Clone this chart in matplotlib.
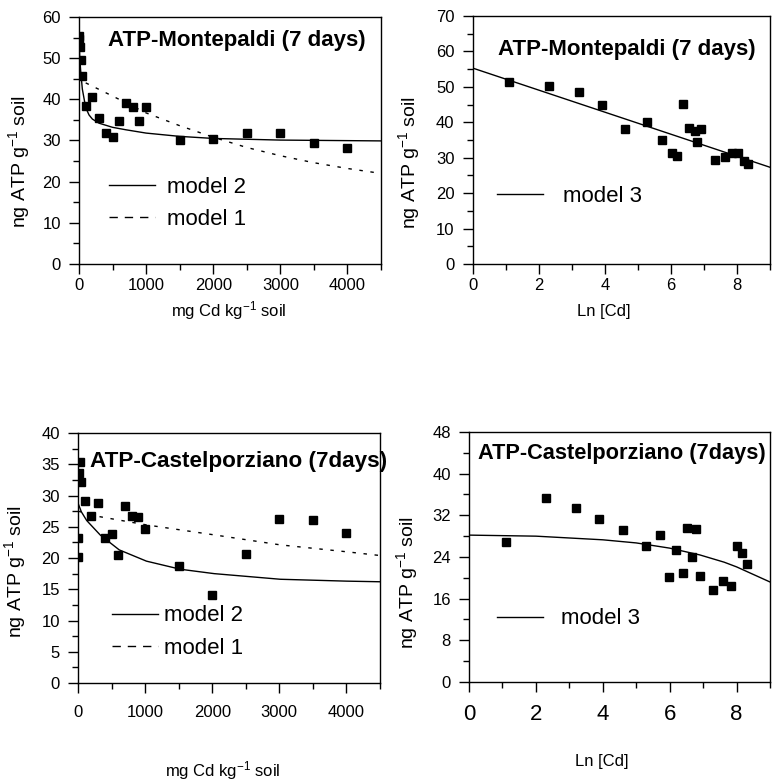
import matplotlib
matplotlib.use("Agg")
import matplotlib.pyplot as plt
from matplotlib.ticker import MultipleLocator
from matplotlib.lines import Line2D

plt.rcParams['font.family'] = ['Liberation Sans', 'DejaVu Sans']
plt.rcParams['mathtext.fontset'] = 'custom'
plt.rcParams['mathtext.rm'] = 'Liberation Sans'
plt.rcParams['mathtext.it'] = 'Liberation Sans'

# ---------------- data ----------------
# Panel A: Montepaldi, ATP vs Cd concentration
mp_cd = [0, 3, 10, 25, 50, 100, 200, 300, 400, 500, 600, 700, 800, 900, 1000,
         1500, 2000, 2500, 3000, 3500, 4000]
mp_atp = [55.5, 54.7, 52.6, 49.6, 45.6, 38.4, 40.5, 35.5, 31.8, 30.8, 34.8, 39.0,
          38.1, 34.8, 38.2, 30.0, 30.4, 31.7, 31.7, 29.4, 28.2]
mp_m2_x = [0, 10, 25, 50, 100, 150, 200, 300, 500, 700, 1000, 1500, 2000, 3000, 4500]
mp_m2_y = [55.5, 50.5, 47.0, 42.5, 38.0, 36.2, 35.2, 34.2, 33.2, 32.6, 31.8, 31.0,
           30.5, 30.1, 29.9]
mp_m1_x = [100, 500, 1000, 1500, 2000, 2500, 3000, 3500, 4000, 4500]
mp_m1_y = [44.0, 40.8, 36.7, 33.6, 30.8, 28.3, 26.3, 24.6, 23.2, 22.0]

# Panel B: Montepaldi, ATP vs Ln[Cd]
mp_ln = [1.09, 2.31, 3.23, 3.92, 4.62, 5.29, 5.72, 6.02, 6.20, 6.38, 6.55, 6.73,
         6.80, 6.92, 7.33, 7.63, 7.85, 8.03, 8.20, 8.33]
mp_ln_atp = [51.5, 50.1, 48.5, 45.0, 38.1, 40.0, 35.1, 31.3, 30.4, 45.1, 38.5, 37.6,
             34.3, 38.0, 29.4, 30.1, 31.4, 31.4, 29.1, 28.2]
mp_m3_x = [0, 9]
mp_m3_y = [55.3, 27.3]

# Panel C: Castelporziano, ATP vs Cd concentration
cp_cd = [0, 3, 10, 25, 50, 100, 200, 300, 400, 500, 600, 700, 800, 900, 1000,
         1500, 2000, 2500, 3000, 3500, 4000]
cp_atp = [20.2, 23.2, 33.6, 35.3, 32.1, 29.2, 26.8, 28.8, 23.2, 23.8, 20.5, 28.3,
          26.7, 26.6, 24.6, 18.8, 14.1, 20.7, 26.2, 26.1, 24.0]
cp_m2_x = [0, 50, 130, 330, 615, 1020, 1527, 2030, 3015, 4000, 4500]
cp_m2_y = [28.8, 27.4, 26.0, 23.7, 21.3, 19.5, 18.2, 17.5, 16.6, 16.3, 16.2]
cp_m1_x = [0, 330, 1020, 2030, 3015, 4000, 4500]
cp_m1_y = [27.5, 26.6, 25.3, 23.7, 22.1, 21.0, 20.4]

# Panel D: Castelporziano, ATP vs Ln[Cd]
cp_ln = [1.10, 2.30, 3.21, 3.90, 4.60, 5.30, 5.70, 5.98, 6.18, 6.39, 6.53, 6.68,
         6.78, 6.90, 7.28, 7.58, 7.83, 8.01, 8.16, 8.30]
cp_ln_atp = [26.9, 35.4, 33.5, 31.2, 29.2, 26.2, 28.3, 20.2, 25.3, 21.0, 29.6, 24.0,
             29.4, 20.3, 17.6, 19.3, 18.4, 26.2, 24.8, 22.7]
cp_m3_x = [0, 2, 4, 5, 6, 6.9, 7.63, 8, 9]
cp_m3_y = [28.2, 28.0, 27.3, 26.7, 25.7, 24.4, 23.0, 22.1, 19.2]

title_mp = "ATP-Montepaldi (7 days)"
title_cp = "ATP-Castelporziano (7days)"
ylab = r"ng ATP g$^{\mathregular{-1}}$ soil"
xlab_cd = r"mg Cd kg$^{\mathregular{-1}}$ soil"
xlab_ln = "Ln [Cd]"

# ---------------- figure ----------------
fig = plt.figure(figsize=(7.75, 7.84), dpi=100)
axA = fig.add_axes([0.1019, 0.6633, 0.3897, 0.3150])
axB = fig.add_axes([0.6099, 0.6633, 0.3836, 0.3163])
axC = fig.add_axes([0.1006, 0.1288, 0.3897, 0.3189])
axD = fig.add_axes([0.6052, 0.1301, 0.3884, 0.3189])

DOT = (0, (2.5, 5.5))
MS = 6


def style(ax, xlim, ylim, xmaj, xmin, ymaj, ymin, xfs=12, yfs=12, xpad=3, ypad=6):
    ax.set_xlim(*xlim)
    ax.set_ylim(*ylim)
    ax.xaxis.set_major_locator(MultipleLocator(xmaj))
    ax.xaxis.set_minor_locator(MultipleLocator(xmin))
    ax.yaxis.set_major_locator(MultipleLocator(ymaj))
    ax.yaxis.set_minor_locator(MultipleLocator(ymin))
    ax.tick_params(which='both', direction='out', top=False, right=False, width=1,
                   colors='black')
    ax.tick_params(which='major', length=7)
    ax.tick_params(which='minor', length=4)
    ax.tick_params(axis='x', labelsize=xfs, pad=xpad)
    ax.tick_params(axis='y', labelsize=yfs, pad=ypad)
    for s in ax.spines.values():
        s.set_linewidth(1.0)


# Panel A
axA.plot(mp_m2_x, mp_m2_y, color='black', lw=1.0)
axA.plot(mp_m1_x, mp_m1_y, color='black', lw=1.0, linestyle=DOT)
axA.plot(mp_cd, mp_atp, linestyle='none', marker='s', ms=MS, color='black')
style(axA, (0, 4500), (0, 60), 1000, 500, 10, 5)
axA.text(0.096, 0.903, title_mp, transform=axA.transAxes, fontsize=16,
         fontweight='bold', va='center', ha='left')
axA.set_ylabel(ylab, fontsize=14)
axA.yaxis.set_label_coords(-0.156, 0.413)
axA.set_xlabel(xlab_cd, fontsize=12)
axA.xaxis.label.set_va('center')
axA.xaxis.set_label_coords(0.497, -0.19)

# Panel B
axB.plot(mp_m3_x, mp_m3_y, color='black', lw=1.0)
axB.plot(mp_ln, mp_ln_atp, linestyle='none', marker='s', ms=MS, color='black')
style(axB, (0, 9), (0, 70), 2, 1, 10, 5)
axB.text(0.085, 0.863, title_mp, transform=axB.transAxes, fontsize=16,
         fontweight='bold', va='center', ha='left')
axB.set_ylabel(ylab, fontsize=14)
axB.yaxis.set_label_coords(-0.172, 0.409)
axB.set_xlabel(xlab_ln, fontsize=12)
axB.xaxis.label.set_va('center')
axB.xaxis.set_label_coords(0.44, -0.19)

# Panel C
axC.plot(cp_m2_x, cp_m2_y, color='black', lw=1.0)
axC.plot(cp_m1_x, cp_m1_y, color='black', lw=1.0, linestyle=DOT)
axC.plot(cp_cd, cp_atp, linestyle='none', marker='s', ms=MS, color='black')
style(axC, (0, 4500), (0, 40), 1000, 500, 5, 2.5, xpad=9)
axC.text(0.04, 0.888, title_cp, transform=axC.transAxes, fontsize=16.2,
         fontweight='bold', va='center', ha='left', clip_on=False)
axC.set_ylabel(ylab, fontsize=14)
axC.yaxis.set_label_coords(-0.165, 0.445)
axC.set_xlabel(xlab_cd, fontsize=12)
axC.xaxis.label.set_va('center')
axC.xaxis.set_label_coords(0.48, -0.352)

# Panel D
axD.plot(cp_m3_x, cp_m3_y, color='black', lw=1.0)
axD.plot(cp_ln, cp_ln_atp, linestyle='none', marker='s', ms=MS, color='black')
style(axD, (0, 9), (0, 48), 2, 1, 8, 4, xfs=16, xpad=9)
axD.text(0.03, 0.912, title_cp, transform=axD.transAxes, fontsize=15.7,
         fontweight='bold', va='center', ha='left', clip_on=False)
axD.set_ylabel(ylab, fontsize=14)
axD.yaxis.set_label_coords(-0.163, 0.396)
axD.set_xlabel(xlab_ln, fontsize=12)
axD.xaxis.label.set_va('center')
axD.xaxis.set_label_coords(0.442, -0.316)

# Legends
solid_h = Line2D([], [], color='black', lw=1.0)
dash_h = Line2D([], [], color='black', lw=1.0, linestyle=(0, (6, 5)))


def add_leg(ax, handles, labels, anchor, tpad):
    ax.legend(handles, labels, loc='center left', bbox_to_anchor=anchor,
              frameon=False, fontsize=16, handlelength=2.07, handletextpad=tpad,
              borderpad=0, borderaxespad=0, labelspacing=0.5)


add_leg(axA, [solid_h, dash_h], ['model 2', 'model 1'], (0.099, 0.245), 0.54)
add_leg(axB, [solid_h], ['model 3'], (0.082, 0.274), 0.9)
add_leg(axC, [solid_h, dash_h], ['model 2', 'model 1'], (0.113, 0.204), 0.27)
add_leg(axD, [solid_h], ['model 3'], (0.093, 0.252), 0.81)

fig.savefig('out.png', dpi=100)
